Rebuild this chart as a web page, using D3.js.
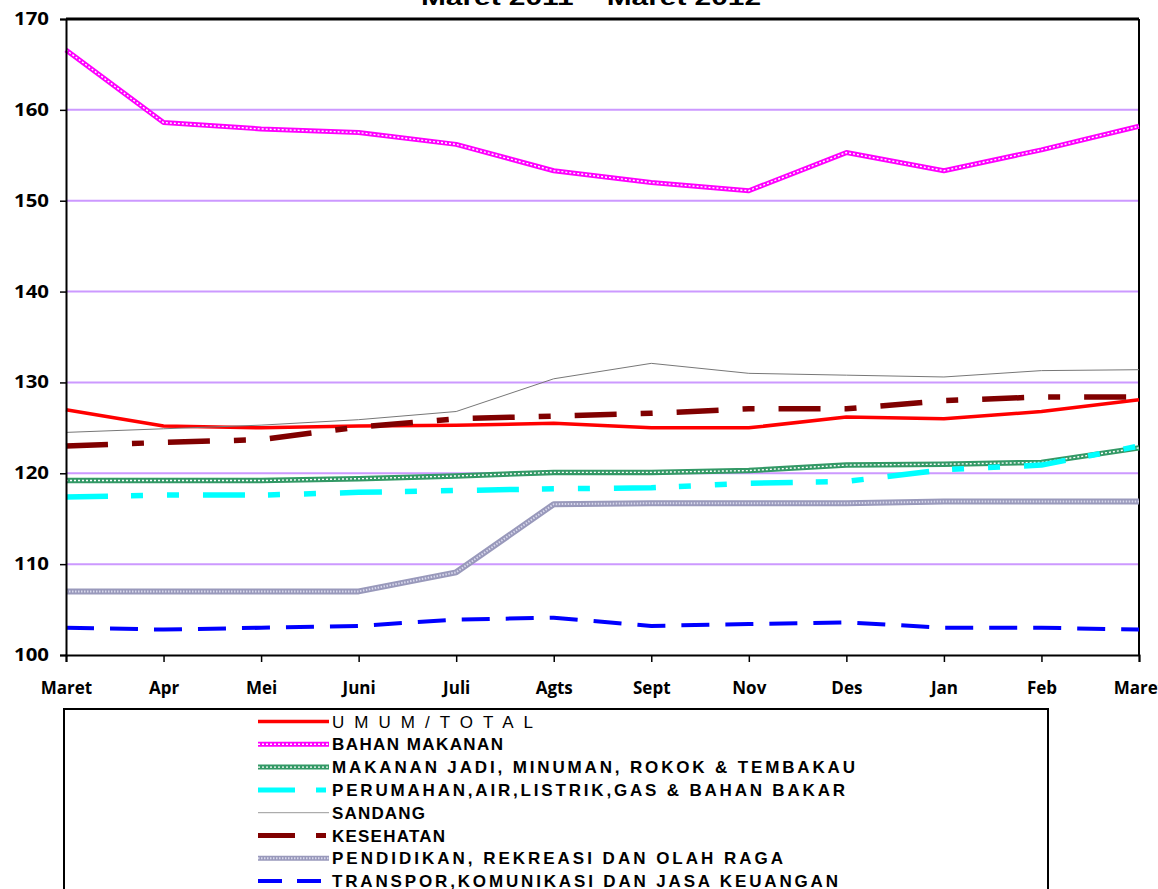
<!DOCTYPE html>
<html>
<head>
<meta charset="utf-8">
<script src="https://cdn.jsdelivr.net/npm/d3@7"></script>
<style>
  body { margin: 0; background: #fff; overflow: hidden; }
  svg { display: block; }
</style>
</head>
<body>
<svg width="1158" height="889"></svg>
<script>
let width = 1158;
let height = 889;
let margin = { top: 19, right: 19, bottom: 234, left: 66 };

let months = ["Maret", "Apr", "Mei", "Juni", "Juli", "Agts", "Sept", "Nov", "Des", "Jan", "Feb", "Maret "];
let yTicks = [100, 110, 120, 130, 140, 150, 160, 170];

let umum       = [127.0, 125.2, 125.0, 125.2, 125.3, 125.5, 125.0, 125.0, 126.2, 126.0, 126.8, 128.1];
let bahan      = [166.6, 158.6, 157.9, 157.5, 156.2, 153.3, 152.0, 151.1, 155.3, 153.3, 155.6, 158.2];
let makananJadi= [119.2, 119.2, 119.2, 119.4, 119.7, 120.1, 120.1, 120.3, 120.9, 121.0, 121.2, 122.8];
let perumahan  = [117.4, 117.6, 117.6, 117.9, 118.1, 118.3, 118.4, 118.9, 119.1, 120.4, 120.9, 123.0];
let sandang    = [124.5, 124.9, 125.3, 125.9, 126.8, 130.4, 132.1, 131.0, 130.8, 130.6, 131.3, 131.4];
let kesehatan  = [123.0, 123.4, 123.7, 125.1, 126.0, 126.3, 126.6, 127.1, 127.1, 128.0, 128.4, 128.4];
let pendidikan = [107.0, 107.0, 107.0, 107.0, 109.1, 116.6, 116.7, 116.7, 116.7, 116.9, 116.9, 116.9];
let transpor   = [103.0, 102.8, 103.0, 103.2, 103.9, 104.1, 103.2, 103.4, 103.6, 103.0, 103.0, 102.8];

let seriesNames = [
    "UMUM/TOTAL",
    "BAHAN MAKANAN",
    "MAKANAN JADI, MINUMAN, ROKOK & TEMBAKAU",
    "PERUMAHAN,AIR,LISTRIK,GAS & BAHAN BAKAR",
    "SANDANG",
    "KESEHATAN",
    "PENDIDIKAN, REKREASI DAN OLAH RAGA",
    "TRANSPOR,KOMUNIKASI DAN JASA KEUANGAN"
];

// line styles: base stroke, plus an optional white/light texture on top
let styles = [
    { color: "#ff0000", w: 3.5 },
    { color: "#ff00ff", w: 5, tex: "#ffffff", texW: 1.4, texDash: "2,2" },
    { color: "#339966", w: 5.5, tex: "#ffffff", texW: 1.4, texDash: "2,2" },
    { color: "#00ffff", w: 5.5, dash: "42,23,12,24,12,24" },
    { color: "#777777", w: 1 },
    { color: "#800000", w: 5.5, dash: "42,24,12,24" },
    { color: "#9999bb", w: 6, tex: "#d8d8ec", texW: 2, texDash: "1.5,1.5" },
    { color: "#0000ff", w: 4, dash: "28,16" }
];

let legendLengths = [201, 171, 523, 513, 93, 113, 451, 506];

let allSeries = [umum, bahan, makananJadi, perumahan, sandang, kesehatan, pendidikan, transpor];

let svg = d3.select("svg");

let x = d3.scalePoint()
    .domain(months)
    .range([margin.left, width - margin.right]);

let y = d3.scaleLinear()
    .domain([100, 170])
    .range([height - margin.bottom, margin.top]);

// title (mostly cut off at the top)
svg.append("text")
    .attr("x", 591)
    .attr("y", 5)
    .attr("text-anchor", "middle")
    .attr("textLength", 340)
    .attr("lengthAdjust", "spacingAndGlyphs")
    .style("font-family", "'Liberation Sans', Arial, sans-serif")
    .style("font-weight", "bold")
    .style("font-size", "22px")
    .text("Maret  2011  –  Maret 2012");

// grid lines
svg.append("g")
    .selectAll("line")
    .data(yTicks.filter(d => d > 100 && d < 170))
    .join("line")
    .attr("x1", margin.left)
    .attr("x2", width - margin.right)
    .attr("y1", d => y(d))
    .attr("y2", d => y(d))
    .style("stroke", "#cc99ff")
    .style("stroke-width", 2);

// plot frame top & right
svg.append("line")
    .attr("x1", margin.left).attr("x2", width - margin.right)
    .attr("y1", y(170)).attr("y2", y(170))
    .style("stroke", "black").style("stroke-width", 3);
svg.append("line")
    .attr("x1", width - margin.right).attr("x2", width - margin.right)
    .attr("y1", y(170)).attr("y2", y(100))
    .style("stroke", "black").style("stroke-width", 2);

let yAxisSettings = d3.axisLeft(y)
    .tickValues(yTicks)
    .tickSize(6)
    .tickPadding(11);

let xAxisSettings = d3.axisBottom(x)
    .tickSize(7)
    .tickPadding(20);

let line = d3.line()
    .x((d, i) => x(months[i]))
    .y(d => y(d));

// series lines
allSeries.forEach(function (values, k) {
    let s = styles[k];
    svg.append("path")
        .datum(values)
        .attr("d", line)
        .style("fill", "none")
        .style("stroke", s.color)
        .style("stroke-width", s.w)
        .style("stroke-dasharray", s.dash || null)
        .style("stroke-linejoin", "round");
    if (s.tex) {
        svg.append("path")
            .datum(values)
            .attr("d", line)
            .style("fill", "none")
            .style("stroke", s.tex)
            .style("stroke-width", s.texW)
            .style("stroke-dasharray", s.texDash);
    }
});

let yAxisTicks = svg.append("g")
    .attr("class", "y axis")
    .attr("transform", `translate(${margin.left},0)`)
    .call(yAxisSettings);

let xAxisTicks = svg.append("g")
    .attr("class", "x axis")
    .attr("transform", `translate(0,${height - margin.bottom})`)
    .call(xAxisSettings);

svg.selectAll(".axis .domain")
    .style("stroke", "black")
    .style("stroke-width", 2);
svg.selectAll(".axis .tick line")
    .style("stroke", "black")
    .style("stroke-width", 1.5);

yAxisTicks.selectAll(".tick text")
    .attr("textLength", 35)
    .attr("lengthAdjust", "spacingAndGlyphs")
    .style("font-family", "'Open Sans', sans-serif")
    .style("font-weight", "bold")
    .style("font-size", "17px")
    .style("fill", "black");

xAxisTicks.selectAll(".tick text")
    .style("font-family", "'Open Sans', sans-serif")
    .style("font-weight", "bold")
    .style("font-size", "17px")
    .style("fill", "black");

// legend box
svg.append("rect")
    .attr("x", 64)
    .attr("y", 709)
    .attr("width", 984)
    .attr("height", 200)
    .style("fill", "none")
    .style("stroke", "black")
    .style("stroke-width", 2);

let legendTop = 721.5;
let legendStep = 22.8;

let legend = svg.append("g")
    .selectAll("g")
    .data(seriesNames)
    .join("g")
    .attr("transform", (d, i) => `translate(0,${legendTop + i * legendStep})`);

legend.each(function (name, k) {
    let g = d3.select(this);
    let s = styles[k];
    g.append("line")
        .attr("x1", 258).attr("x2", 329)
        .attr("y1", 0).attr("y2", 0)
        .style("stroke", s.color)
        .style("stroke-width", Math.min(s.w, 5))
        .style("stroke-dasharray", s.dash ? "37,21,10,50" : null);
    if (s.tex) {
        g.append("line")
            .attr("x1", 258).attr("x2", 329)
            .attr("y1", 0).attr("y2", 0)
            .style("stroke", s.tex)
            .style("stroke-width", s.texW)
            .style("stroke-dasharray", s.texDash);
    }
    g.append("text")
        .attr("x", 332)
        .attr("y", 6)
        .attr("textLength", legendLengths[k])
        .attr("lengthAdjust", "spacing")
        .style("font-family", "'Liberation Sans', Arial, sans-serif")
        .style("font-weight", k == 0 ? "normal" : "bold")
        .style("font-size", "17px")
        .text(name);
});

// transpor legend has a different dash
legend.filter((d, i) => i == 7).select("line")
    .style("stroke-dasharray", "24,15,24,50");
legend.filter((d, i) => i == 4).select("line")
    .style("stroke", "#999");
</script>
</body>
</html>
